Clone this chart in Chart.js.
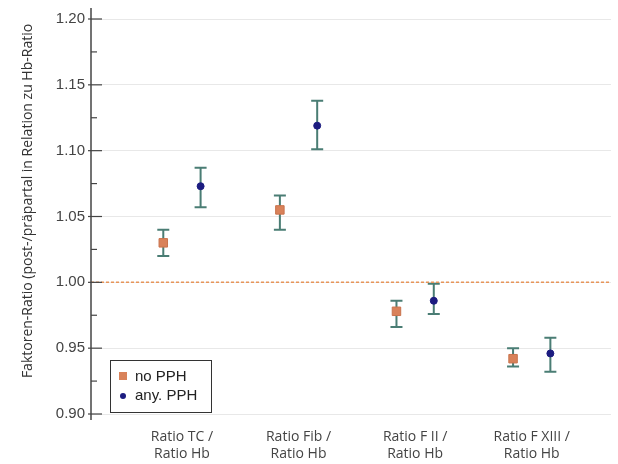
<!DOCTYPE html>
<html lang="de">
<head>
  <meta charset="UTF-8">
  <title>Faktoren-Ratio</title>
  <script src="https://cdn.jsdelivr.net/npm/chart.js"></script>
  <style>
    body {
      margin: 0;
      background: #ffffff;
    }
    canvas {
      display: block;
    }
  </style>
</head>
<body>
  <canvas id="chart" width="618" height="464"></canvas>

  <script>
  // Daten
  const categories = [
    ['Ratio TC /', 'Ratio Hb'],
    ['Ratio Fib /', 'Ratio Hb'],
    ['Ratio F II /', 'Ratio Hb'],
    ['Ratio F XIII /', 'Ratio Hb']
  ];
  const noPphMean = [1.030, 1.055, 0.978, 0.942];
  const noPphLow  = [1.020, 1.040, 0.966, 0.936];
  const noPphHigh = [1.040, 1.066, 0.986, 0.950];
  const anyPphMean = [1.073, 1.119, 0.986, 0.946];
  const anyPphLow  = [1.057, 1.101, 0.976, 0.932];
  const anyPphHigh = [1.087, 1.138, 0.999, 0.958];
  const yTicks = [0.90, 0.95, 1.00, 1.05, 1.10, 1.15, 1.20];
  const refValue = 1.00;
  const yTitle = 'Faktoren-Ratio (post-/präpartal in Relation zu Hb-Ratio';

  const shift = 0.16;
  const xMin = -0.78, xMax = 3.68;

  const noPts = noPphMean.map((v, i) => ({ x: i - shift, y: v, lo: noPphLow[i], hi: noPphHigh[i] }));
  const anyPts = anyPphMean.map((v, i) => ({ x: i + shift, y: v, lo: anyPphLow[i], hi: anyPphHigh[i] }));

  const extras = {
    id: 'extras',
    beforeDatasetsDraw(chart) {
      const ctx = chart.ctx;
      const xs = chart.scales.x, ys = chart.scales.y;
      ctx.save();
      // Fehlerbalken
      ctx.strokeStyle = '#4a7d74';
      ctx.lineWidth = 2;
      [noPts, anyPts].forEach(pts => {
        pts.forEach(p => {
          const px = xs.getPixelForValue(p.x);
          const top = ys.getPixelForValue(p.hi);
          const bot = ys.getPixelForValue(p.lo);
          ctx.beginPath();
          ctx.moveTo(px, top); ctx.lineTo(px, bot);
          ctx.moveTo(px - 6, top); ctx.lineTo(px + 6, top);
          ctx.moveTo(px - 6, bot); ctx.lineTo(px + 6, bot);
          ctx.stroke();
        });
      });
      ctx.restore();
    },
    afterDraw(chart) {
      const ctx = chart.ctx;
      const ys = chart.scales.y;
      const area = chart.chartArea;
      ctx.save();
      // y-Achse mit Ticks nach innen
      ctx.strokeStyle = '#444';
      ctx.lineWidth = 1.5;
      ctx.beginPath();
      ctx.moveTo(area.left, 8);
      ctx.lineTo(area.left, area.bottom + 6);
      ctx.stroke();
      ctx.lineWidth = 1.2;
      yTicks.forEach((v, i) => {
        const py = ys.getPixelForValue(v);
        ctx.beginPath();
        ctx.moveTo(area.left - 3, py); ctx.lineTo(area.left + 11, py);
        ctx.stroke();
        if (i < yTicks.length - 1) {
          const my = ys.getPixelForValue((v + yTicks[i + 1]) / 2);
          ctx.beginPath();
          ctx.moveTo(area.left, my); ctx.lineTo(area.left + 6, my);
          ctx.stroke();
        }
      });
      // Achsentitel
      ctx.save();
      ctx.translate(28, 201);
      ctx.rotate(-Math.PI / 2);
      ctx.fillStyle = '#333';
      ctx.font = '14px "Open Sans", "Liberation Sans", sans-serif';
      ctx.textAlign = 'center';
      ctx.textBaseline = 'middle';
      ctx.fillText(yTitle, 0, 0);
      ctx.restore();
      // Legende
      const lx = 110, ly = 360, lw = 101, lh = 52;
      ctx.fillStyle = '#ffffff';
      ctx.fillRect(lx, ly, lw, lh);
      ctx.strokeStyle = '#333';
      ctx.lineWidth = 1;
      ctx.strokeRect(lx + 0.5, ly + 0.5, lw, lh);
      ctx.fillStyle = '#d9825a';
      ctx.fillRect(119, 372, 8, 8);
      ctx.fillStyle = '#1c1c80';
      ctx.beginPath();
      ctx.arc(123, 396, 3, 0, Math.PI * 2);
      ctx.fill();
      ctx.fillStyle = '#222';
      ctx.font = '15px "Liberation Sans", Arial, sans-serif';
      ctx.textBaseline = 'middle';
      ctx.fillText('no PPH', 135, 377);
      ctx.fillText('any. PPH', 135, 396);
      ctx.restore();
    }
  };

  new Chart(document.getElementById('chart'), {
    type: 'scatter',
    data: {
      datasets: [
        {
          label: 'Referenz',
          type: 'line',
          data: [{ x: xMin, y: refValue }, { x: xMax, y: refValue }],
          borderColor: '#e8955a',
          borderWidth: 1.5,
          borderDash: [3, 2],
          pointRadius: 0,
          fill: false
        },
        {
          label: 'no PPH',
          data: noPts,
          pointStyle: 'rect',
          pointRadius: 6,
          backgroundColor: '#d9825a',
          borderColor: '#c9734d',
          borderWidth: 1
        },
        {
          label: 'any. PPH',
          data: anyPts,
          pointStyle: 'circle',
          pointRadius: 3.5,
          backgroundColor: '#1c1c80',
          borderColor: '#1c1c80',
          borderWidth: 1
        }
      ]
    },
    options: {
      responsive: false,
      animation: false,
      layout: { padding: { top: 19, right: 3, bottom: 0, left: 0 } },
      plugins: {
        legend: { display: false },
        tooltip: { enabled: false }
      },
      scales: {
        x: {
          type: 'linear',
          min: xMin,
          max: xMax,
          afterBuildTicks: s => { s.ticks = categories.map((c, i) => ({ value: i })); },
          afterFit: s => { s.height = 50; },
          grid: { display: false, drawTicks: false },
          border: { display: false },
          ticks: {
            callback: v => categories[v],
            color: '#444',
            padding: 14,
            font: { size: 14, family: '"Open Sans", "Liberation Sans", sans-serif', lineHeight: 1.25 }
          }
        },
        y: {
          min: 0.90,
          max: 1.20,
          afterBuildTicks: s => { s.ticks = yTicks.map(v => ({ value: v })); },
          afterFit: s => { s.width = 91; },
          grid: { color: '#e8e8e8', drawTicks: false },
          border: { display: false },
          ticks: {
            callback: v => v.toFixed(2),
            color: '#444',
            padding: 6,
            font: { size: 15, family: '"Liberation Sans", Arial, sans-serif' }
          }
        }
      }
    },
    plugins: [extras]
  });
  </script>
</body>
</html>
